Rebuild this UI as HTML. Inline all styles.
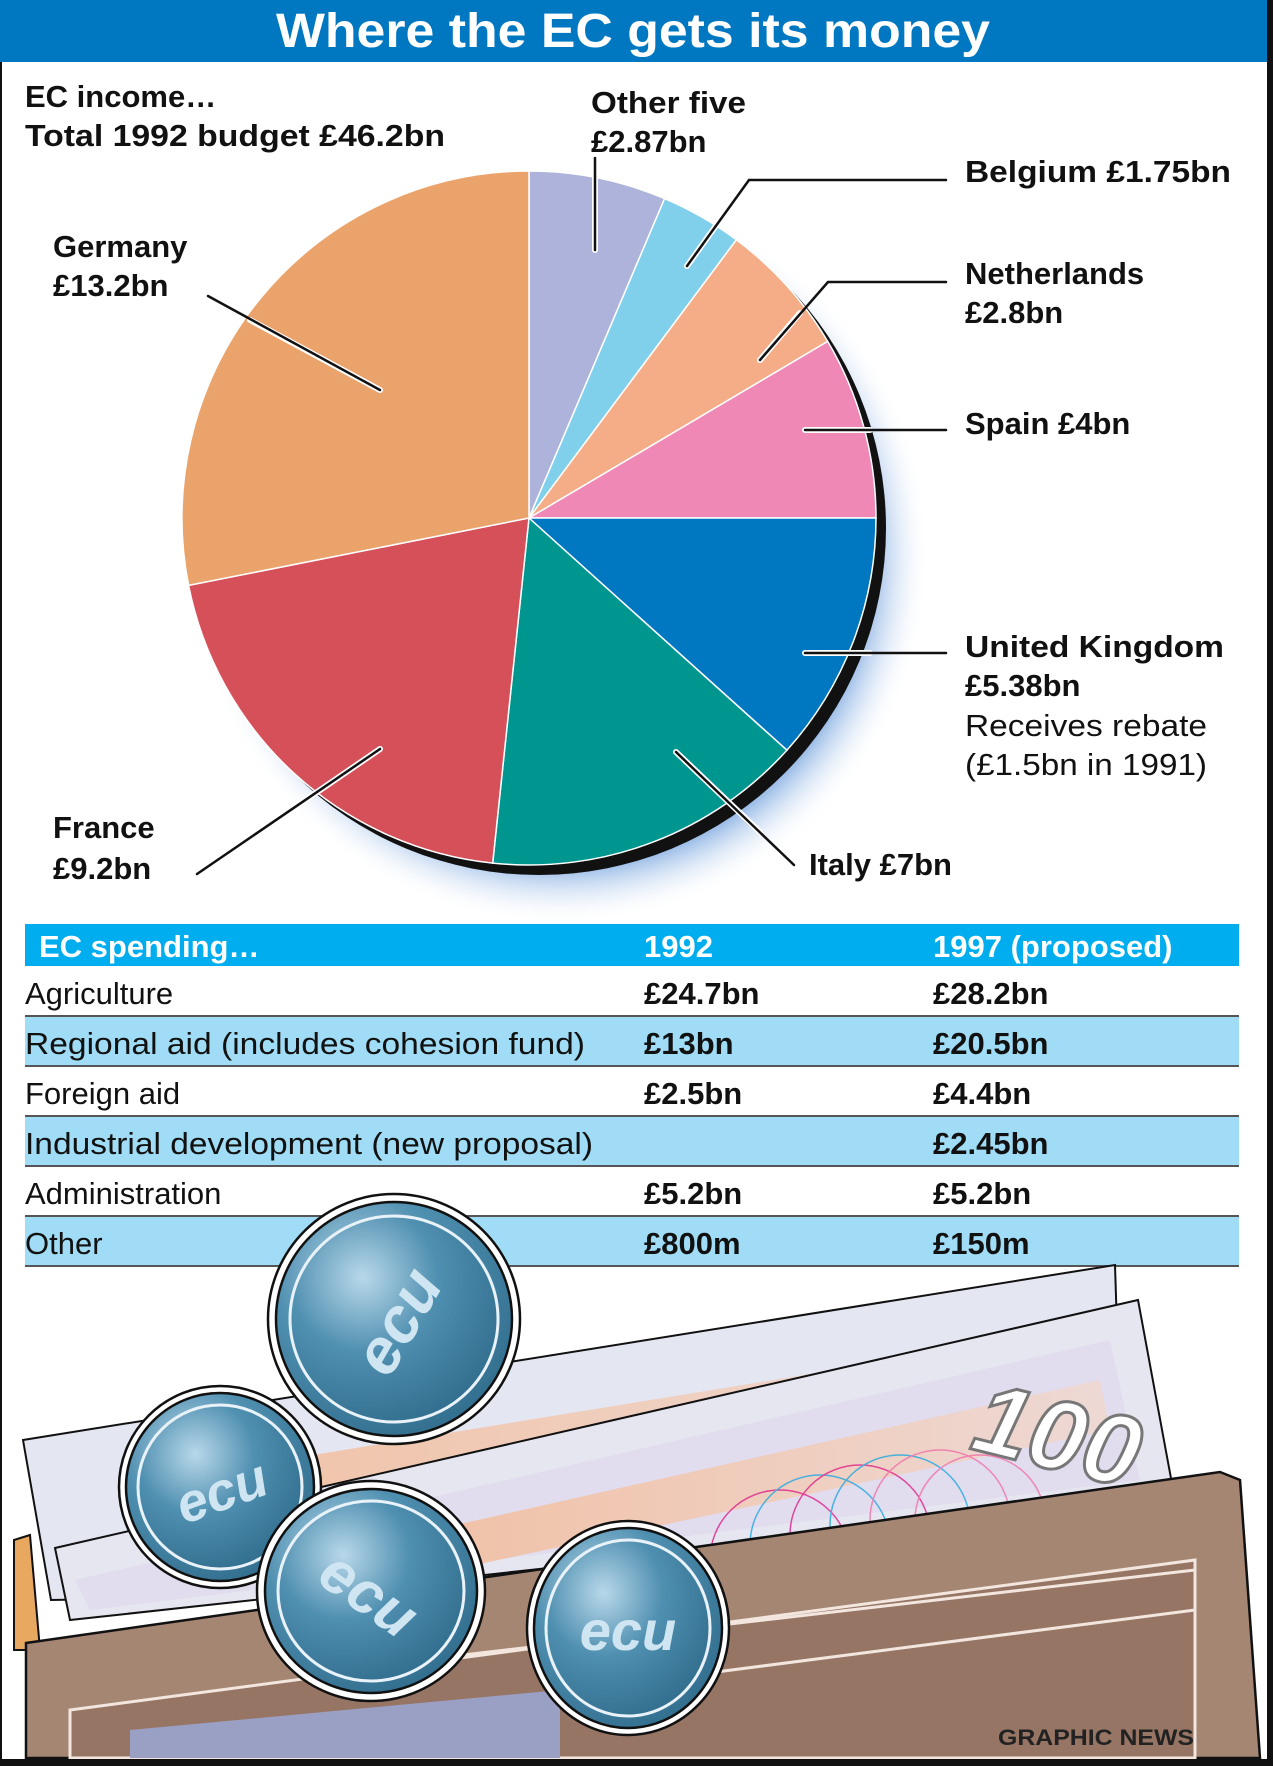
<!DOCTYPE html>
<html><head><meta charset="utf-8"><style>
html,body{margin:0;padding:0;background:#fff}
svg{display:block}
text{font-family:"Liberation Sans",sans-serif}
.b{font-weight:bold;font-size:31px;fill:#111}
.r{font-size:31px;fill:#111}
.t{font-size:31px;fill:#111}
.tb{font-size:31px;fill:#111;font-weight:bold}
</style></head><body>
<svg width="1273" height="1766" viewBox="0 0 1273 1766" xmlns="http://www.w3.org/2000/svg">
<defs>
<radialGradient id="glow" cx="0.5" cy="0.5" r="0.5">
<stop offset="0.85" stop-color="#9fbfe8"/><stop offset="1" stop-color="#ffffff" stop-opacity="0"/>
</radialGradient>
<radialGradient id="coin" cx="0.35" cy="0.3" r="0.8">
<stop offset="0" stop-color="#b8d8ea"/><stop offset="0.45" stop-color="#4f8fb0"/><stop offset="1" stop-color="#2f6a8a"/>
</radialGradient>
<linearGradient id="stripe" x1="0" y1="0" x2="1" y2="0">
<stop offset="0" stop-color="#f4b890"/><stop offset="1" stop-color="#f0d8d0"/>
</linearGradient>
</defs>
<rect width="1273" height="1766" fill="#fff"/>
<!-- title -->
<rect x="0" y="0" width="1273" height="62" fill="#0078c1"/>
<text x="633" y="47" text-anchor="middle" font-weight="bold" font-size="48" fill="#fff" textLength="714" lengthAdjust="spacingAndGlyphs">Where the EC gets its money</text>
<!-- pie shadow -->
<circle cx="560" cy="555" r="370" fill="url(#glow)"/>
<circle cx="539" cy="528" r="347" fill="#111"/>
<!-- pie -->
<g stroke="#fff" stroke-width="1.5">
<path d="M529,518 L529,171 A347,347 0 0 1 664.6,198.6 Z" fill="#adb3db"/>
<path d="M529,518 L664.6,198.6 A347,347 0 0 1 736.4,239.8 Z" fill="#80d0ec"/>
<path d="M529,518 L736.4,239.8 A347,347 0 0 1 827.7,341.4 Z" fill="#f5ad88"/>
<path d="M529,518 L827.7,341.4 A347,347 0 0 1 876,518 Z" fill="#ef88b4"/>
<path d="M529,518 L876,518 A347,347 0 0 1 786.9,750.2 Z" fill="#0078c1"/>
<path d="M529,518 L786.9,750.2 A347,347 0 0 1 492.7,863.1 Z" fill="#009690"/>
<path d="M529,518 L492.7,863.1 A347,347 0 0 1 188.6,585.4 Z" fill="#d6505a"/>
<path d="M529,518 L188.6,585.4 A347,347 0 0 1 529,171 Z" fill="#eaa36b"/>
</g>
<!-- leader lines -->
<g fill="none" stroke-linecap="round">
<g stroke="#fff" stroke-width="6">
<path d="M595,170 L595,250"/><path d="M720,220 L687,266"/><path d="M800,313 L760,360"/>
<path d="M805,430 L870,430"/><path d="M805,653 L870,653"/><path d="M676,752 L760,832"/>
<path d="M380,749 L250,838"/><path d="M380,390 L250,320"/>
</g>
<g stroke="#111" stroke-width="2.5">
<path d="M595,158 L595,250"/><path d="M946,180 L749,180 L687,266"/><path d="M946,282 L828,282 L760,360"/>
<path d="M946,430 L805,430"/><path d="M946,653 L805,653"/><path d="M794,865 L676,752"/>
<path d="M197,874 L380,749"/><path d="M208,296 L380,390"/>
</g>
</g>
<!-- labels -->
<text class="b" x="25" y="107">EC income…</text>
<text class="b" x="25" y="146" textLength="420" lengthAdjust="spacingAndGlyphs">Total 1992 budget £46.2bn</text>
<text class="b" x="591" y="113" textLength="155" lengthAdjust="spacingAndGlyphs">Other five</text>
<text class="b" x="591" y="152">£2.87bn</text>
<text class="b" x="965" y="182" textLength="266" lengthAdjust="spacingAndGlyphs">Belgium £1.75bn</text>
<text class="b" x="965" y="284">Netherlands</text>
<text class="b" x="965" y="323">£2.8bn</text>
<text class="b" x="965" y="434">Spain £4bn</text>
<text class="b" x="965" y="657" textLength="259" lengthAdjust="spacingAndGlyphs">United Kingdom</text>
<text class="b" x="965" y="696">£5.38bn</text>
<text class="r" x="965" y="736" textLength="242" lengthAdjust="spacingAndGlyphs">Receives rebate</text>
<text class="r" x="965" y="775" textLength="242" lengthAdjust="spacingAndGlyphs">(£1.5bn in 1991)</text>
<text class="b" x="809" y="875">Italy £7bn</text>
<text class="b" x="53" y="838">France</text>
<text class="b" x="53" y="879">£9.2bn</text>
<text class="b" x="53" y="257">Germany</text>
<text class="b" x="53" y="296">£13.2bn</text>
<!-- table -->
<rect x="25" y="924" width="1214" height="42" fill="#00aeef"/>
<text x="39" y="957" font-weight="bold" font-size="31" fill="#fff">EC spending…</text>
<text x="644" y="957" font-weight="bold" font-size="31" fill="#fff">1992</text>
<text x="933" y="957" font-weight="bold" font-size="31" fill="#fff">1997 (proposed)</text>
<rect x="25" y="1016" width="1214" height="50" fill="#a0dcf5"/>
<rect x="25" y="1116" width="1214" height="50" fill="#a0dcf5"/>
<rect x="25" y="1216" width="1214" height="50" fill="#a0dcf5"/>
<g stroke="#555" stroke-width="2">
<line x1="25" y1="1016" x2="1239" y2="1016"/><line x1="25" y1="1066" x2="1239" y2="1066"/>
<line x1="25" y1="1116" x2="1239" y2="1116"/><line x1="25" y1="1166" x2="1239" y2="1166"/>
<line x1="25" y1="1216" x2="1239" y2="1216"/><line x1="25" y1="1266" x2="1239" y2="1266"/>
</g>
<text class="t" x="25" y="1004">Agriculture</text>
<text class="tb" x="644" y="1004">£24.7bn</text><text class="tb" x="933" y="1004">£28.2bn</text>
<text class="t" x="25" y="1054" textLength="560" lengthAdjust="spacingAndGlyphs">Regional aid (includes cohesion fund)</text>
<text class="tb" x="644" y="1054">£13bn</text><text class="tb" x="933" y="1054">£20.5bn</text>
<text class="t" x="25" y="1104">Foreign aid</text>
<text class="tb" x="644" y="1104">£2.5bn</text><text class="tb" x="933" y="1104">£4.4bn</text>
<text class="t" x="25" y="1154" textLength="568" lengthAdjust="spacingAndGlyphs">Industrial development (new proposal)</text>
<text class="tb" x="933" y="1154">£2.45bn</text>
<text class="t" x="25" y="1204">Administration</text>
<text class="tb" x="644" y="1204">£5.2bn</text><text class="tb" x="933" y="1204">£5.2bn</text>
<text class="t" x="25" y="1254">Other</text>
<text class="tb" x="644" y="1254">£800m</text><text class="tb" x="933" y="1254">£150m</text>
<!-- wallet back tabs -->
<path d="M14,1540 L30,1535 L40,1650 L14,1650 Z" fill="#e8a860" stroke="#111" stroke-width="2"/>
<path d="M1160,1490 L1218,1478 L1225,1560 L1165,1560 Z" fill="#e8a860" stroke="#111" stroke-width="2"/>
<!-- banknotes -->
<path d="M23,1440 L1115,1265 L1125,1580 L51,1600 Z" fill="#e4e6f2" stroke="#111" stroke-width="2"/>
<path d="M160,1480 L1080,1330 L1085,1400 L180,1560 Z" fill="url(#stripe)" opacity="0.8"/>
<path d="M55,1548 L1138,1300 L1175,1500 L70,1620 Z" fill="#e6e6f0" stroke="#111" stroke-width="2"/>
<path d="M75,1580 L1110,1340 L1140,1480 L90,1610 Z" fill="#ddd6ec" opacity="0.6"/>
<path d="M300,1560 L1100,1380 L1110,1430 L310,1600 Z" fill="url(#stripe)" opacity="0.85"/>
<text x="975" y="1465" font-size="100" font-weight="bold" fill="#fff" stroke="#777" stroke-width="3" transform="rotate(14 1040 1430)" font-style="italic">100</text>
<g fill="none" stroke-width="1.5" opacity="0.8">
<circle cx="780" cy="1560" r="70" stroke="#e0208a"/><circle cx="820" cy="1545" r="70" stroke="#20a8e0"/>
<circle cx="860" cy="1535" r="70" stroke="#e0208a"/><circle cx="900" cy="1525" r="70" stroke="#20a8e0"/>
<circle cx="940" cy="1520" r="70" stroke="#f070a8"/><circle cx="980" cy="1520" r="65" stroke="#f070a8"/>
</g>
<!-- wallet front -->
<path d="M26,1643 L1220,1472 L1240,1480 L1260,1758 L26,1758 Z" fill="#a58673" stroke="#111" stroke-width="2.5"/>
<path d="M70,1710 L1195,1560 L1195,1758 L70,1758 Z" fill="#977565" stroke="#f2e6df" stroke-width="3"/>
<path d="M420,1660 L1195,1570" stroke="#f2e6df" stroke-width="3" fill="none"/>
<path d="M500,1700 L1195,1610" stroke="#f2e6df" stroke-width="3" fill="none"/>
<path d="M130,1730 L560,1690 L560,1758 L130,1758 Z" fill="#9aa0c4"/>
<!-- coins -->
<g stroke="#111" stroke-width="2.5">
<ellipse cx="394" cy="1319" rx="126" ry="125" fill="#fff"/>
<ellipse cx="394" cy="1319" rx="118" ry="117" fill="url(#coin)"/>
<ellipse cx="394" cy="1319" rx="104" ry="103" fill="url(#coin)" stroke="#e8f2f8" stroke-width="3"/>
<ellipse cx="220" cy="1487" rx="101" ry="101" fill="#fff"/>
<ellipse cx="220" cy="1487" rx="94" ry="94" fill="url(#coin)"/>
<ellipse cx="220" cy="1487" rx="82" ry="82" fill="url(#coin)" stroke="#e8f2f8" stroke-width="3"/>
<ellipse cx="371" cy="1591" rx="114" ry="110" fill="#fff"/>
<ellipse cx="371" cy="1591" rx="106" ry="102" fill="url(#coin)"/>
<ellipse cx="371" cy="1591" rx="93" ry="90" fill="url(#coin)" stroke="#e8f2f8" stroke-width="3"/>
<ellipse cx="628" cy="1628" rx="101" ry="107" fill="#fff"/>
<ellipse cx="628" cy="1628" rx="94" ry="100" fill="url(#coin)"/>
<ellipse cx="628" cy="1628" rx="82" ry="88" fill="url(#coin)" stroke="#e8f2f8" stroke-width="3"/>
</g>
<g font-family="Liberation Serif,serif" font-weight="bold" font-style="italic" fill="#cfe6f2">
<text x="394" y="1345" font-size="64" text-anchor="middle" transform="rotate(-60 394 1319)">ecu</text>
<text x="220" y="1510" font-size="54" text-anchor="middle" transform="rotate(-20 220 1487)">ecu</text>
<text x="371" y="1615" font-size="60" text-anchor="middle" transform="rotate(35 371 1591)">ecu</text>
<text x="628" y="1650" font-size="56" text-anchor="middle">ecu</text>
</g>
<!-- footer -->
<text x="998" y="1745" font-weight="bold" font-size="22" fill="#222" textLength="196" lengthAdjust="spacingAndGlyphs">GRAPHIC NEWS</text>
<!-- frame -->
<rect x="1267" y="0" width="6" height="1766" fill="#111"/>
<rect x="0" y="1759" width="1273" height="7" fill="#111"/>
<rect x="0" y="62" width="2" height="1700" fill="#111"/>
</svg>
</body></html>
